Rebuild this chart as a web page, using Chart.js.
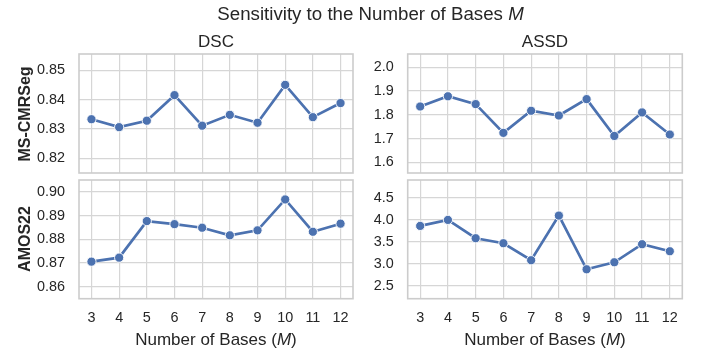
<!DOCTYPE html>
<html><head><meta charset="utf-8">
<script src="https://cdn.jsdelivr.net/npm/chart.js@4.4.0/dist/chart.umd.min.js"></script>
<style>
html,body{margin:0;padding:0;background:#fff}
body{width:711px;height:349px;position:relative;overflow:hidden;font-family:"Liberation Sans",Arial,sans-serif;color:#262626}
canvas{position:absolute;left:0;top:0}
.t{position:absolute;white-space:nowrap;transform:translate(-50%,-50%);line-height:1}
.r{transform:translate(-50%,-50%) rotate(-90deg);font-weight:bold;font-size:16px}
</style></head><body>
<canvas id="c0" width="711" height="349"></canvas>
<canvas id="c1" width="711" height="349"></canvas>
<canvas id="c2" width="711" height="349"></canvas>
<canvas id="c3" width="711" height="349"></canvas>
<div class="t" style="left:370.5px;top:13.5px;font-size:18.7px">Sensitivity to the Number of Bases <i>M</i></div>
<div class="t" style="left:216px;top:41px;font-size:17px">DSC</div>
<div class="t" style="left:545px;top:41px;font-size:17px">ASSD</div>
<div class="t r" style="left:24.5px;top:113.5px">MS-CMRSeg</div>
<div class="t r" style="left:24.5px;top:239.3px">AMOS22</div>
<div class="t" style="left:216px;top:338.5px;font-size:17px">Number of Bases (<i>M</i>)</div>
<div class="t" style="left:545px;top:338.5px;font-size:17px">Number of Bases (<i>M</i>)</div>
<script>
// ---- data ----
const bases = [3, 4, 5, 6, 7, 8, 9, 10, 11, 12];
const dscCMR = [0.8333, 0.8306, 0.8328, 0.8415, 0.8311, 0.8348, 0.8321, 0.8450, 0.8340, 0.8388];
const assdCMR = [1.835, 1.878, 1.845, 1.724, 1.817, 1.797, 1.866, 1.711, 1.810, 1.717];
const dscAMOS = [0.8706, 0.8723, 0.8877, 0.8864, 0.8849, 0.8817, 0.8838, 0.8968, 0.8832, 0.8866];
const assdAMOS = [3.863, 4.000, 3.582, 3.468, 3.080, 4.098, 2.874, 3.034, 3.445, 3.285];
const ticksDscCMR = [0.82, 0.83, 0.84, 0.85];
const ticksAssdCMR = [1.6, 1.7, 1.8, 1.9, 2.0];
const ticksDscAMOS = [0.86, 0.87, 0.88, 0.89, 0.90];
const ticksAssdAMOS = [2.5, 3.0, 3.5, 4.0, 4.5];

Chart.defaults.font.family = "'Liberation Sans', Arial, sans-serif";
Chart.defaults.font.size = 14.4;
Chart.defaults.color = '#262626';

const GRID = '#d6d6d6';
const frame = {
  id: 'frame',
  afterDatasetsDraw(chart) {
    const a = chart.chartArea, ctx = chart.ctx;
    ctx.save();
    ctx.strokeStyle = '#cccccc';
    ctx.lineWidth = 1.6;
    ctx.strokeRect(a.left, a.top, a.right - a.left, a.bottom - a.top);
    ctx.restore();
  }
};

function panel(id, vals, yTicks, ymin, ymax, decimals, box, showX) {
  const W = 60, H = showX ? 32 : 0;
  new Chart(document.getElementById(id), {
    type: 'line',
    data: { datasets: [{
      data: bases.map((m, i) => ({ x: m, y: vals[i] })),
      borderColor: '#4c72b0', backgroundColor: '#4c72b0',
      borderWidth: 2.7, pointRadius: 4.6, pointBorderColor: '#ffffff', pointBorderWidth: 0.9,
      pointBackgroundColor: '#4c72b0', tension: 0
    }]},
    options: {
      responsive: false, animation: false, devicePixelRatio: 1,
      layout: { padding: { left: box.L - W, top: box.T, right: 711 - box.R, bottom: 349 - box.B - H } },
      plugins: { legend: { display: false }, tooltip: { enabled: false } },
      scales: {
        x: {
          type: 'linear', min: 2.55, max: 12.45,
          afterBuildTicks: s => { s.ticks = bases.map(v => ({ value: v })); },
          afterFit: s => { s.height = H; },
          grid: { color: GRID, lineWidth: 1.2, drawTicks: false },
          border: { display: false },
          ticks: { display: showX, padding: 11, maxRotation: 0, autoSkip: false, callback: v => String(v) }
        },
        y: {
          min: ymin, max: ymax,
          afterBuildTicks: s => { s.ticks = yTicks.map(v => ({ value: v })); },
          afterFit: s => { s.width = W; },
          grid: { color: GRID, lineWidth: 1.2, drawTicks: false },
          border: { display: false },
          ticks: { padding: 14, callback: v => Number(v).toFixed(decimals) }
        }
      }
    },
    plugins: [frame]
  });
}

panel('c0', dscCMR, ticksDscCMR, 0.815, 0.8555, 2, { L: 79, R: 353, T: 54, B: 173 }, false);
panel('c1', assdCMR, ticksAssdCMR, 1.555, 2.056, 1, { L: 407.7, R: 682.3, T: 54, B: 173 }, false);
panel('c2', dscAMOS, ticksDscAMOS, 0.855, 0.905, 2, { L: 79, R: 353, T: 180, B: 298.7 }, true);
panel('c3', assdAMOS, ticksAssdAMOS, 2.203, 4.91, 1, { L: 407.7, R: 682.3, T: 180, B: 298.7 }, true);
</script>
</body></html>
